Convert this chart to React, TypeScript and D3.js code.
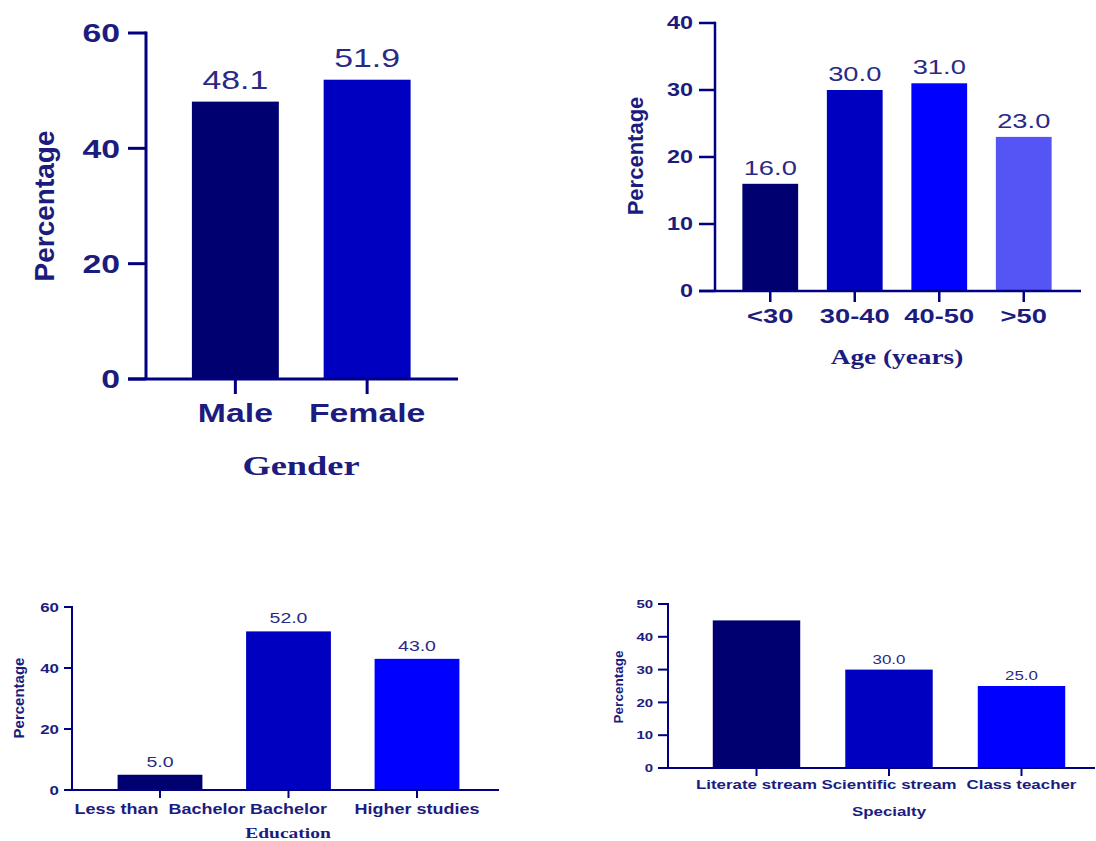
import React from "react";
import * as d3 from "d3";

// ---------- data ----------
const genderCats = ["Male", "Female"];
const genderVals = [48.1, 51.9];
const genderLabels = ["48.1", "51.9"];
const genderTicks = [0, 20, 40, 60];

const ageCats = ["<30", "30-40", "40-50", ">50"];
const ageVals = [16.0, 30.0, 31.0, 23.0];
const ageLabels = ["16.0", "30.0", "31.0", "23.0"];
const ageTicks = [0, 10, 20, 30, 40];

const eduCats = ["Less than  Bachelor", "Bachelor", "Higher studies"];
const eduVals = [5.0, 52.0, 43.0];
const eduLabels = ["5.0", "52.0", "43.0"];
const eduTicks = [0, 20, 40, 60];

const specCats = ["Literate stream", "Scientific stream", "Class teacher"];
const specVals = [45.0, 30.0, 25.0];
const specLabels: (string | null)[] = [null, "30.0", "25.0"];
const specTicks = [0, 10, 20, 30, 40, 50];

const barColors = ["#000070", "#0000C0", "#0000FF", "#5555F5"];

const AXIS = "#000080";
const TEXT = "#1c1c7e";
const VALTEXT = "#2a2a86";
const SX = 1.3;
const SANS = "'Liberation Sans', Arial, sans-serif";
const SERIF = "'Liberation Serif', 'Times New Roman', serif";

type PanelProps = {
  cats: string[];
  vals: number[];
  labels: (string | null)[];
  ticks: number[];
  yAxisX: number;
  y0: number;
  yTop: number;
  axisLeft: number;
  axisRight: number;
  band: [number, number];
  tickDown: number;
  stroke: number;
  tickFont: number;
  tickRight: number;
  catFont: number;
  catSX?: number;
  catBaseline: number;
  valFont: number;
  valGap: number;
  title: string;
  titleFont: number;
  titleX: number;
  titleY: number;
  titleFamily: string;
  yLabFont: number;
  yLabX: number;
  yLabY: number;
};

function SText(props: {
  x: number;
  y: number;
  size: number;
  anchor: string;
  weight?: string | number;
  family?: string;
  fill?: string;
  sx?: number;
  children: React.ReactNode;
}) {
  return (
    <text
      transform={`translate(${props.x},${props.y}) scale(${props.sx ?? SX},1)`}
      fontSize={props.size}
      textAnchor={props.anchor as any}
      fontWeight={props.weight ?? "bold"}
      fontFamily={props.family ?? SANS}
      fill={props.fill ?? TEXT}
      style={{ whiteSpace: "pre" }}
    >
      {props.children}
    </text>
  );
}

function Panel(p: PanelProps) {
  const max = p.ticks[p.ticks.length - 1];
  const y = d3.scaleLinear().domain([0, max]).range([p.y0, p.yTop]);
  const x = d3
    .scaleBand<string>()
    .domain(p.cats)
    .range(p.band)
    .paddingInner(0.34)
    .paddingOuter(0.17);
  const bw = x.bandwidth();
  return (
    <g>
      {p.cats.map((c, i) => (
        <rect
          key={"b" + i}
          x={x(c)}
          y={y(p.vals[i])}
          width={bw}
          height={p.y0 - y(p.vals[i])}
          fill={barColors[i]}
        />
      ))}
      {p.cats.map((c, i) =>
        p.labels[i] ? (
          <SText
            key={"v" + i}
            x={(x(c) as number) + bw / 2}
            y={y(p.vals[i]) - p.valGap}
            size={p.valFont}
            anchor="middle"
            weight="normal"
            fill={VALTEXT}
          >
            {p.labels[i]}
          </SText>
        ) : null
      )}
      {/* y axis */}
      <line x1={p.yAxisX} x2={p.yAxisX} y1={y(max) - p.stroke / 2} y2={p.y0} stroke={AXIS} strokeWidth={p.stroke} />
      {p.ticks.map((t) => (
        <g key={"t" + t}>
          <line x1={p.axisLeft} x2={p.yAxisX} y1={y(t)} y2={y(t)} stroke={AXIS} strokeWidth={p.stroke} />
          <SText x={p.tickRight} y={y(t) + p.tickFont * 0.36} size={p.tickFont} anchor="end">
            {t}
          </SText>
        </g>
      ))}
      {/* x axis */}
      <line x1={p.axisLeft} x2={p.axisRight} y1={p.y0} y2={p.y0} stroke={AXIS} strokeWidth={p.stroke} />
      {p.cats.map((c, i) => {
        const cx = (x(c) as number) + bw / 2;
        return (
          <g key={"c" + i}>
            <line x1={cx} x2={cx} y1={p.y0} y2={p.y0 + p.tickDown} stroke={AXIS} strokeWidth={p.stroke} />
            <SText x={cx} y={p.catBaseline} size={p.catFont} anchor="middle" sx={p.catSX}>
              {c}
            </SText>
          </g>
        );
      })}
      <SText x={p.titleX} y={p.titleY} size={p.titleFont} anchor="middle" family={p.titleFamily}>
        {p.title}
      </SText>
      <text
        transform={`translate(${p.yLabX},${p.yLabY}) rotate(-90)`}
        fontSize={p.yLabFont}
        textAnchor="middle"
        fontWeight="bold"
        fontFamily={SANS}
        fill={TEXT}
      >
        Percentage
      </text>
    </g>
  );
}

export default function App() {
  return (
    <svg
      width={1096}
      height={841}
      style={{ position: "absolute", left: 0, top: 0, display: "block", background: "#fff" }}
    >
      <rect width={1096} height={841} fill="#fff" />
      <Panel
        cats={genderCats}
        vals={genderVals}
        labels={genderLabels}
        ticks={genderTicks}
        yAxisX={146}
        y0={379}
        yTop={33}
        axisLeft={128}
        axisRight={458}
        band={[169.5, 433]}
        tickDown={15}
        stroke={3}
        tickFont={26}
        tickRight={120}
        catFont={26}
        catBaseline={422}
        valFont={26}
        valGap={13}
        title="Gender"
        titleFont={28}
        titleX={301}
        titleY={475}
        titleFamily={SERIF}
        yLabFont={28}
        yLabX={54}
        yLabY={206}
      />
      <Panel
        cats={ageCats}
        vals={ageVals}
        labels={ageLabels}
        ticks={ageTicks}
        yAxisX={715}
        y0={291}
        yTop={23}
        axisLeft={699}
        axisRight={1081}
        band={[728, 1066]}
        tickDown={11}
        stroke={2.5}
        tickFont={18}
        tickRight={693}
        catFont={21}
        catBaseline={323}
        valFont={21}
        valGap={9}
        title="Age (years)"
        titleFont={21}
        titleX={897}
        titleY={364}
        titleFamily={SERIF}
        yLabFont={22}
        yLabX={643}
        yLabY={156}
      />
      <Panel
        cats={eduCats}
        vals={eduVals}
        labels={eduLabels}
        ticks={eduTicks}
        yAxisX={72}
        y0={790}
        yTop={607}
        axisLeft={64}
        axisRight={499}
        band={[95.75, 481.25]}
        tickDown={8}
        stroke={2}
        tickFont={13}
        tickRight={59}
        catFont={15}
        catSX={1.2}
        catBaseline={814}
        valFont={15}
        valGap={8}
        title="Education"
        titleFont={15}
        titleX={288}
        titleY={838}
        titleFamily={SERIF}
        yLabFont={15}
        yLabX={24}
        yLabY={698}
      />
      <Panel
        cats={specCats}
        vals={specVals}
        labels={specLabels}
        ticks={specTicks}
        yAxisX={668}
        y0={768}
        yTop={604}
        axisLeft={658}
        axisRight={1095}
        band={[690.25, 1087.75]}
        tickDown={8}
        stroke={2}
        tickFont={11.5}
        tickRight={653}
        catFont={13}
        catBaseline={789}
        valFont={13}
        valGap={6}
        title="Specialty"
        titleFont={13}
        titleX={889}
        titleY={816}
        titleFamily={SANS}
        yLabFont={13.5}
        yLabX={623}
        yLabY={687}
      />
    </svg>
  );
}
